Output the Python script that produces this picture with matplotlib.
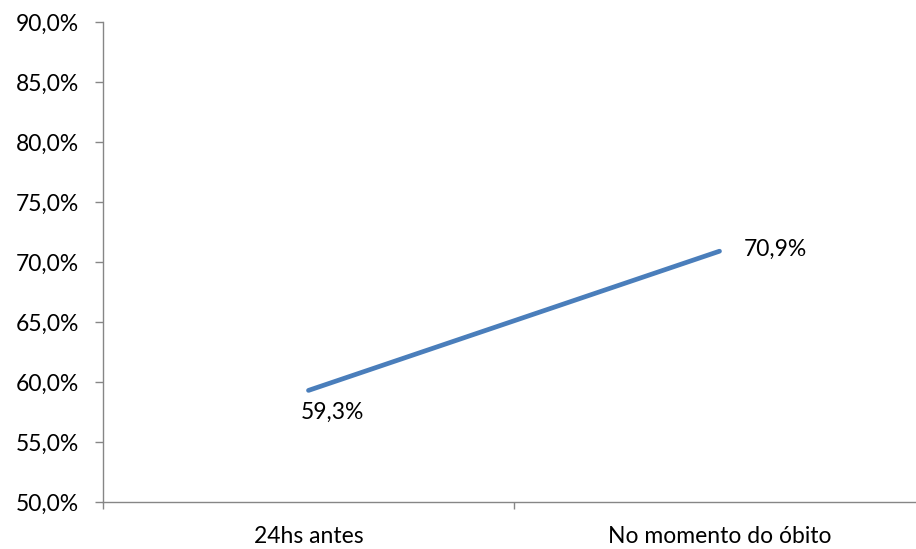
import matplotlib
matplotlib.use("Agg")
import matplotlib.pyplot as plt
from matplotlib.ticker import FuncFormatter

categories = ["24hs antes", "No momento do óbito"]
values = [59.3, 70.9]
value_labels = ["59,3%", "70,9%"]
y_ticks = [50, 55, 60, 65, 70, 75, 80, 85, 90]

plt.rcParams['font.family'] = ['Lato', 'DejaVu Sans']

W, H = 916, 549
fig = plt.figure(figsize=(W/100, H/100), dpi=100)
left, right, top, bottom = 103, 925, 22, 502
ax = fig.add_axes([left/W, (H-bottom)/H, (right-left)/W, (bottom-top)/H])

x = list(range(len(categories)))
ax.plot(x, values, color="#4A7EBB", linewidth=3.4, solid_capstyle="round")

ax.set_xlim(-0.5, len(categories)-0.5)
ax.set_ylim(50, 90)
ax.set_yticks(y_ticks)
ax.yaxis.set_major_formatter(FuncFormatter(lambda v, p: f"{v:.1f}%".replace(".", ",")))
ax.set_xticks([i + 0.5 for i in range(-1, len(categories))])
ax.set_xticklabels([])
ax.set_xticks(x, minor=True)
ax.set_xticklabels(categories, minor=True)

for s in ["top", "right"]:
    ax.spines[s].set_visible(False)
for s in ["left", "bottom"]:
    ax.spines[s].set_color("#868686")
    ax.spines[s].set_linewidth(1.0)

ax.tick_params(axis="y", direction="out", length=5.5, width=1.0, color="#868686",
               labelsize=16.5, pad=12, labelcolor="black")
ax.tick_params(axis="x", which="major", direction="out", length=5, width=1.0, color="#868686")
ax.tick_params(axis="x", which="minor", length=0, labelsize=16.5, pad=17, labelcolor="black")

ax.annotate(value_labels[0], (x[0], values[0]), xytext=(-8, -22), textcoords="offset pixels",
            ha="left", va="center", fontsize=16.5)
ax.annotate(value_labels[1], (x[1], values[1]), xytext=(24, 2), textcoords="offset pixels",
            ha="left", va="center", fontsize=16.5)

fig.savefig("out.png", dpi=100)
